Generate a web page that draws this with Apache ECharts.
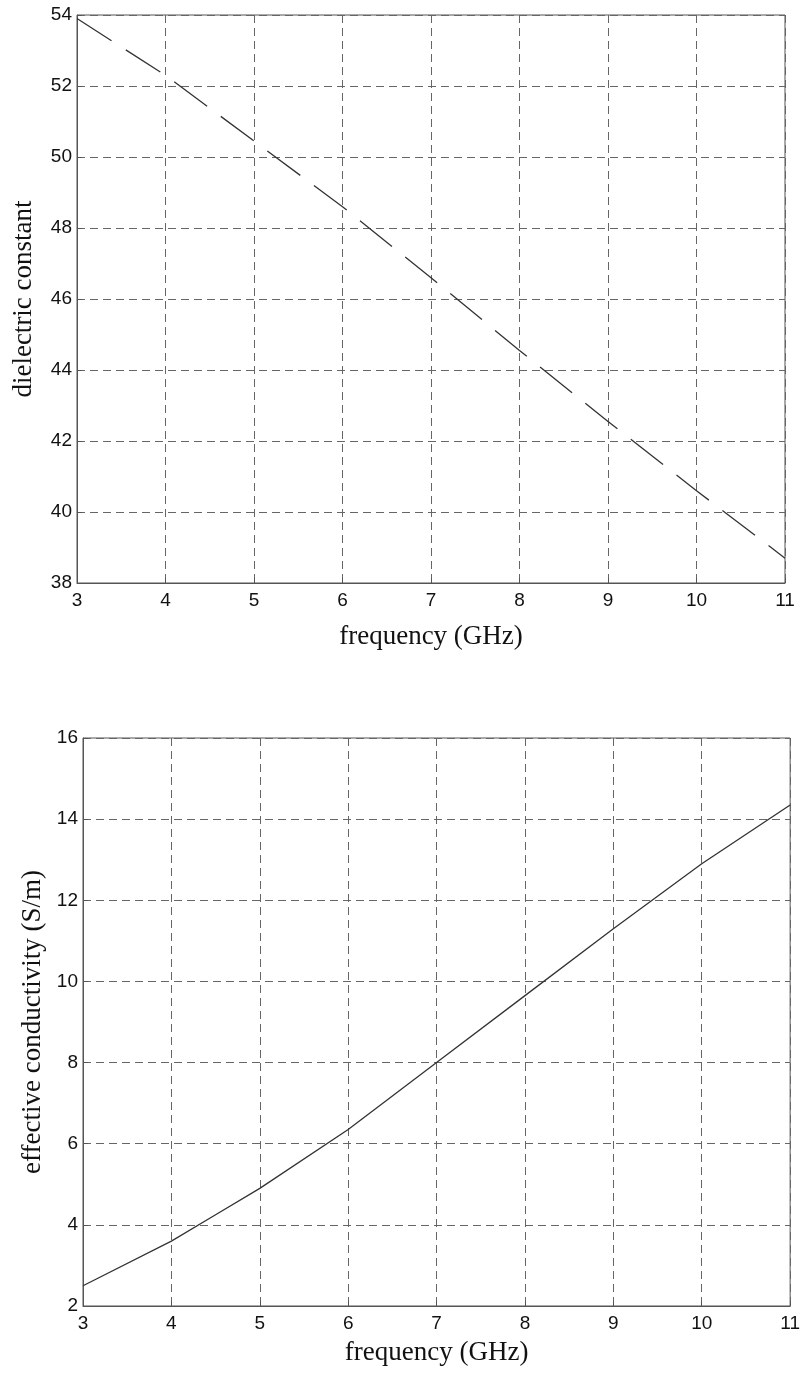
<!DOCTYPE html>
<html>
<head>
<meta charset="utf-8">
<script src="https://cdn.jsdelivr.net/npm/echarts@6/dist/echarts.min.js"></script>
<style>
html,body{margin:0;padding:0;background:#fff;}
#main{width:803px;height:1374px;}
</style>
</head>
<body>
<div id="main"></div>
<script>
// Frequency (GHz)
var freq = [3, 4, 5, 6, 7, 8, 9, 10, 11];
// dielectric constant vs frequency
var dielectric = [53.9, 52.3, 50.45, 48.6, 46.6, 44.55, 42.55, 40.6, 38.7];
// effective conductivity (S/m)
var condFreq = [3, 4, 4.5, 5, 6, 7, 8, 9, 10, 11];
var conductivity = [2.5, 3.6, 4.25, 4.9, 6.35, 8.0, 9.65, 11.3, 12.9, 14.35];

var topTitles = {x: 'frequency (GHz)', y: 'dielectric constant'};
var bottomTitles = {x: 'frequency (GHz)', y: 'effective conductivity (S/m)'};

var labelFont = {color: '#111', fontFamily: 'Liberation Sans', fontSize: 19};
var nameFont = {color: '#111', fontFamily: 'Liberation Serif', fontSize: 27};
var gridLine = {show: true, lineStyle: {color: '#666', type: [8, 5], width: 1}};

function xAx(idx, title, gap) {
  return {
    type: 'value', gridIndex: idx, min: 3, max: 11, interval: 1,
    name: title, nameLocation: 'middle', nameGap: gap, nameTextStyle: nameFont,
    axisLine: {show: true, lineStyle: {color: '#555'}},
    axisTick: {show: true, inside: true, length: 5, lineStyle: {color: '#555'}},
    axisLabel: Object.assign({margin: 8}, labelFont),
    splitLine: gridLine
  };
}
function yAx(idx, title, min, max, gap) {
  return {
    type: 'value', gridIndex: idx, min: min, max: max, interval: 2,
    name: title, nameLocation: 'middle', nameGap: gap, nameTextStyle: nameFont,
    axisLine: {show: true, lineStyle: {color: '#555'}},
    axisTick: {show: true, inside: true, length: 5, lineStyle: {color: '#555'}},
    axisLabel: Object.assign({margin: 5}, labelFont),
    splitLine: gridLine
  };
}

var chart = echarts.init(document.getElementById('main'), null, {renderer: 'canvas'});
chart.setOption({
  animation: false,
  backgroundColor: '#fff',
  grid: [
    {left: 77, top: 15, width: 708, height: 568, show: true, borderColor: '#555', borderWidth: 1},
    {left: 83, top: 738, width: 708, height: 568, show: true, borderColor: '#555', borderWidth: 1}
  ],
  xAxis: [xAx(0, topTitles.x, 40), xAx(1, bottomTitles.x, 33)],
  yAxis: [yAx(0, topTitles.y, 38, 54, 40), yAx(1, bottomTitles.y, 2, 16, 37)],
  series: [
    {
      type: 'line', xAxisIndex: 0, yAxisIndex: 0, symbol: 'none',
      data: freq.map(function (f, i) { return [f, dielectric[i]]; }),
      lineStyle: {color: '#333', width: 1.3, type: [41, 17]}
    },
    {
      type: 'line', xAxisIndex: 1, yAxisIndex: 1, symbol: 'none',
      data: condFreq.map(function (f, i) { return [f, conductivity[i]]; }),
      lineStyle: {color: '#333', width: 1.3, type: 'solid'}
    }
  ]
});
</script>
</body>
</html>
